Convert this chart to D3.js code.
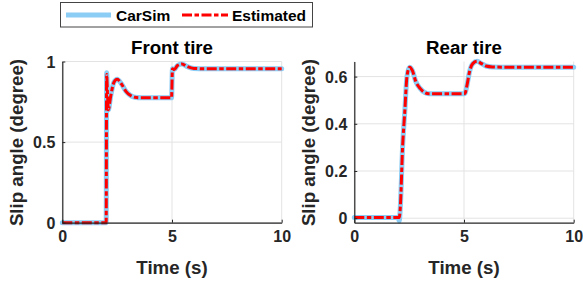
<!DOCTYPE html>
<html>
<head>
<meta charset="utf-8">
<script src="https://cdn.jsdelivr.net/npm/d3@7"></script>
<style>
  body { margin: 0; background: #fff; }
  svg { display: block; font-family: "Liberation Sans", Arial, sans-serif; }
</style>
</head>
<body>
<svg id="chart" width="583" height="285"></svg>
<script>
// data
var frontTime = [0, 1, 2.0, 2.02, 2.06, 2.1, 2.2, 2.35, 2.5, 2.7, 2.9, 3.1, 3.3, 3.6, 4, 4.5, 4.98, 5.02, 5.1, 5.25, 5.45, 5.7, 6.0, 6.5, 7, 8, 9, 10];
var frontCarSim = [0, 0, 0, 0.93, 0.8, 0.70, 0.78, 0.87, 0.89, 0.86, 0.815, 0.79, 0.778, 0.775, 0.775, 0.775, 0.775, 0.955, 0.95, 0.975, 0.985, 0.968, 0.957, 0.955, 0.955, 0.955, 0.955, 0.955];
var frontEstimated = [0, 0, 0, 0.92, 0.8, 0.70, 0.78, 0.87, 0.89, 0.86, 0.815, 0.79, 0.778, 0.775, 0.775, 0.775, 0.775, 0.955, 0.95, 0.975, 0.985, 0.968, 0.957, 0.955, 0.955, 0.955, 0.955, 0.955];

var rearTime = [0, 1, 2.0, 2.05, 2.1, 2.2, 2.3, 2.4, 2.52, 2.65, 2.8, 3.0, 3.2, 3.4, 4, 5.0, 5.05, 5.15, 5.25, 5.4, 5.6, 5.8, 6.0, 6.3, 7, 8, 9, 10];
var rearCarSim = [0.003, 0.003, 0.003, -0.012, 0.05, 0.3, 0.45, 0.6, 0.64, 0.625, 0.58, 0.55, 0.533, 0.527, 0.527, 0.527, 0.53, 0.57, 0.62, 0.655, 0.665, 0.655, 0.645, 0.641, 0.64, 0.64, 0.64, 0.64];
var rearEstimated = [0.003, 0.003, 0.003, 0.003, 0.05, 0.3, 0.45, 0.6, 0.64, 0.625, 0.58, 0.55, 0.533, 0.527, 0.527, 0.527, 0.53, 0.57, 0.62, 0.655, 0.665, 0.655, 0.645, 0.641, 0.64, 0.64, 0.64, 0.64];

var xTicks = [0, 5, 10];
var frontTicks = [0, 0.5, 1];
var rearTicks = [0, 0.2, 0.4, 0.6];

var blue = "#8ccdf5", red = "#ff0000", ink = "#262626";
var dashDot = "10,2.5,4.5,2.5";

var svg = d3.select("#chart");

function panel(opt) {
  var x = d3.scaleLinear().domain([0, 10]).range([opt.left, opt.left + 219.4]);
  var y = d3.scaleLinear().domain(opt.ydom).range([222.7, 61.5]);
  var g = svg.append("g");

  // grid
  g.selectAll(".gx").data(xTicks).enter().append("line")
    .attr("x1", function(d) { return x(d); }).attr("x2", function(d) { return x(d); })
    .attr("y1", y.range()[0]).attr("y2", y.range()[1])
    .attr("stroke", "#e3e3e3").attr("stroke-width", 1);
  g.selectAll(".gy").data(opt.yticks).enter().append("line")
    .attr("x1", x.range()[0]).attr("x2", x.range()[1])
    .attr("y1", function(d) { return y(d); }).attr("y2", function(d) { return y(d); })
    .attr("stroke", "#e3e3e3").attr("stroke-width", 1);

  var line = function(ys) {
    return d3.line()
      .x(function(d, i) { return x(opt.time[i]); })
      .y(function(d) { return y(d); })
      .curve(d3.curveMonotoneX)(ys);
  };

  g.append("path").attr("d", line(opt.carsim))
    .attr("fill", "none").attr("stroke", blue).attr("stroke-width", 5)
    .attr("stroke-linejoin", "round").attr("stroke-linecap", "round");
  g.append("path").attr("d", line(opt.est))
    .attr("fill", "none").attr("stroke", red).attr("stroke-width", 3)
    .attr("stroke-dasharray", dashDot);

  // axes
  var ax = g.append("g").attr("transform", "translate(0," + y.range()[0] + ")")
    .call(d3.axisBottom(x).tickValues(xTicks).tickSizeInner(-3).tickSizeOuter(0).tickPadding(8));
  var ay = g.append("g").attr("transform", "translate(" + x.range()[0] + ",0)")
    .call(d3.axisLeft(y).tickValues(opt.yticks).tickSizeInner(-3).tickSizeOuter(0).tickPadding(7)
      .tickFormat(d3.format("")));
  [ax, ay].forEach(function(a) {
    a.select(".domain").attr("stroke", ink).attr("stroke-width", 1.2);
    a.selectAll(".tick line").attr("stroke", ink);
    a.selectAll("text").attr("fill", ink).style("font-size", "16px").style("font-weight", "bold");
  });
  ay.selectAll("text").attr("dy", "0.36em");

  var cx = (x.range()[0] + x.range()[1]) / 2;
  g.append("text").attr("x", cx).attr("y", 53.5).attr("text-anchor", "middle")
    .attr("fill", "#000").style("font-size", "18.7px").style("font-weight", "bold").text(opt.title);
  g.append("text").attr("x", cx).attr("y", 273.5).attr("text-anchor", "middle")
    .attr("fill", ink).style("font-size", "18.7px").style("font-weight", "bold").text("Time (s)");
  g.append("text").attr("transform", "translate(" + (opt.left - 39) + ",142.5) rotate(-90)")
    .attr("text-anchor", "middle").attr("fill", ink)
    .style("font-size", "18.7px").style("font-weight", "bold").text("Slip angle (degree)");
}

panel({ left: 62.3, ydom: [0, 1], yticks: frontTicks, time: frontTime,
        carsim: frontCarSim, est: frontEstimated, title: "Front tire" });
panel({ left: 354.3, ydom: [-0.019, 0.664], yticks: rearTicks, time: rearTime,
        carsim: rearCarSim, est: rearEstimated, title: "Rear tire" });

// legend
var lg = svg.append("g");
lg.append("rect").attr("x", 60.5).attr("y", 2.5).attr("width", 252).attr("height", 24.5)
  .attr("fill", "#fff").attr("stroke", "#444").attr("stroke-width", 1);
lg.append("line").attr("x1", 66).attr("x2", 111).attr("y1", 15).attr("y2", 15)
  .attr("stroke", blue).attr("stroke-width", 5);
lg.append("text").attr("x", 116).attr("y", 20.5).attr("fill", "#000")
  .style("font-size", "15.5px").style("font-weight", "bold").text("CarSim");
lg.append("line").attr("x1", 182).attr("x2", 228).attr("y1", 15).attr("y2", 15)
  .attr("stroke", red).attr("stroke-width", 3).attr("stroke-dasharray", dashDot);
lg.append("text").attr("x", 232).attr("y", 20.5).attr("fill", "#000")
  .style("font-size", "15.5px").style("font-weight", "bold").text("Estimated");
</script>
</body>
</html>
